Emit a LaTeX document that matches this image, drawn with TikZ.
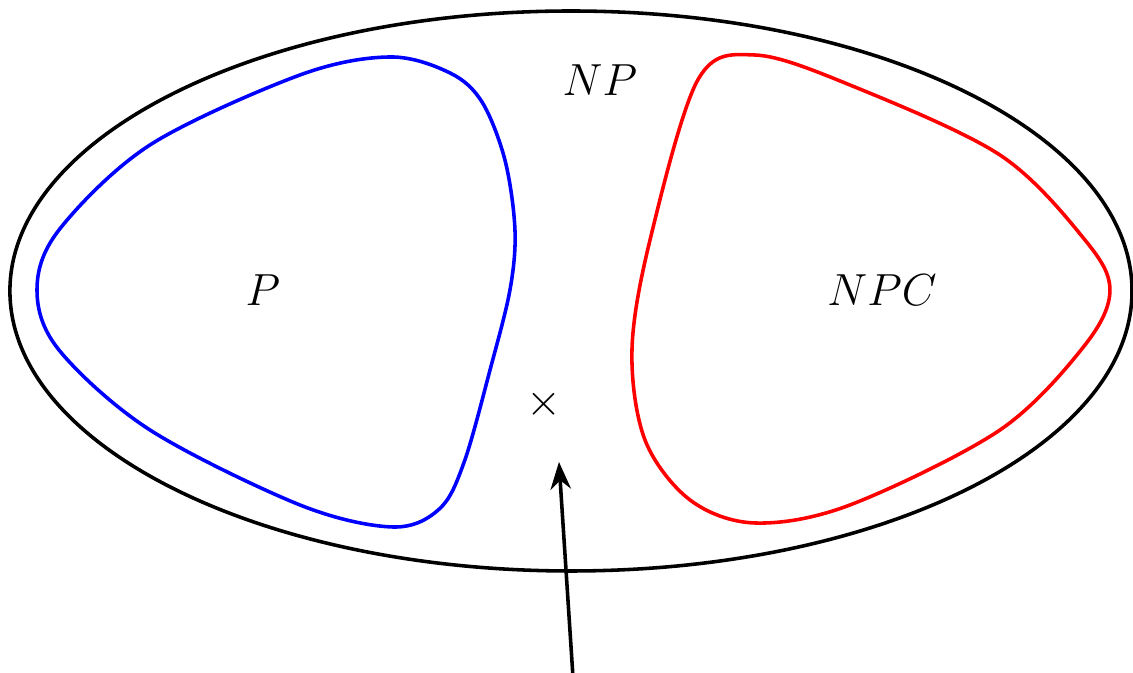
\documentclass[tikz,border=0pt]{standalone}
\usepackage{tikz}
\usetikzlibrary{arrows.meta}
\tikzset{
  >=Stealth,
  classline/.style={line width=0.95pt, line join=round},
  setlabel/.style={font=\large, inner sep=1pt},
  pointer/.style={->, line width=0.95pt}
}

\begin{document}
\begin{tikzpicture}
\useasboundingbox (-5.353,-3.581) rectangle (5.269,2.728);
% outer class
\draw[classline] (0,0) ellipse (5.26cm and 2.625cm);
% P region
\draw[classline, blue] plot[smooth cycle, tension=0.55] coordinates {
  (-1.697,2.194) (-1.134,2.044) (-0.834,1.772) (-0.619,1.228) (-0.525,0.572)
  (-0.572,0.009) (-0.759,-0.741) (-1.0,-1.6) (-1.23,-2.04)
  (-1.669,-2.2125) (-2.541,-2.006) (-3.947,-1.303) (-4.8,-0.553)
  (-5.006,0.009) (-4.8,0.572) (-3.947,1.369) (-2.541,2.025)};
% NPC region
\draw[classline, red] plot[smooth cycle, tension=0.55] coordinates {
  (1.725,2.2125) (1.19,1.98) (0.741,0.478) (0.572,-0.553)
  (0.694,-1.397) (1.116,-1.959) (1.725,-2.175) (2.616,-2.006) (4.022,-1.303)
  (4.819,-0.506) (5.053,0.009) (4.819,0.478) (4.022,1.275) (2.616,1.931)};
\node[setlabel] (np) at (0.272,1.978) {$NP$};
\node[setlabel] (p) at (-2.888,0.009) {$P$};
\node[setlabel] (npc) at (2.916,0.009) {$NPC$};
\node[setlabel] (mark) at (-0.253,-1.059) {$\times$};
\coordinate (src) at (0.019,-3.62);
\coordinate (tip) at (-0.1125,-1.603);
\draw[pointer] (src) -- (tip);
\end{tikzpicture}
\end{document}
